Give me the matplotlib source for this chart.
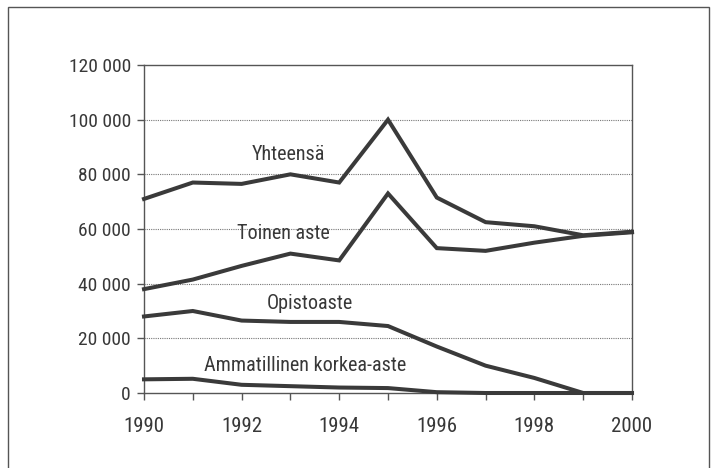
import matplotlib
matplotlib.use("Agg")
import matplotlib.pyplot as plt
from matplotlib.patches import Rectangle
from matplotlib.ticker import FuncFormatter

years = [1990, 1991, 1992, 1993, 1994, 1995, 1996, 1997, 1998, 1999, 2000]
yhteensa = [71000, 77000, 76500, 80000, 77000, 100000, 71500, 62500, 61000, 57700, 59000]
toinen_aste = [38000, 41500, 46500, 51000, 48500, 73000, 53000, 52000, 55000, 57500, 58800]
opistoaste = [28000, 30000, 26500, 26000, 26000, 24500, 17000, 10000, 5500, 0, 0]
ammatillinen = [5000, 5200, 3000, 2500, 2000, 1800, 300, 0, 0, 0, 0]

labels = ["Yhteensä", "Toinen aste", "Opistoaste", "Ammatillinen korkea-aste"]
label_pos = [(1992.95, 87400), (1992.85, 58500), (1993.4, 32600), (1993.3, 9900)]

yticks = [0, 20000, 40000, 60000, 80000, 100000, 120000]
xticks = [1990, 1992, 1994, 1996, 1998, 2000]

FONT = ["Roboto Condensed", "DejaVu Sans"]
plt.rcParams['font.family'] = FONT
TXT = "#383838"
LINE = "#3a3a3a"

fig = plt.figure(figsize=(7.16, 4.68), dpi=100)
fig.patch.set_facecolor("white")
ax = fig.add_axes([144/716, 1-393/468, (632-144)/716, (393-65)/468])

for series in [yhteensa, toinen_aste, opistoaste, ammatillinen]:
    ax.plot(years, series, color=LINE, lw=2.9, solid_joinstyle="miter", zorder=3, clip_on=False)

for txt, (x, y) in zip(labels, label_pos):
    ax.text(x, y, txt, ha="center", va="center", fontsize=14.5, color=TXT, zorder=4,
            family=FONT, fontweight="normal")

ax.set_xlim(1990, 2000)
ax.set_ylim(0, 120000)
ax.set_xticks(xticks)
ax.set_yticks(yticks)
ax.yaxis.set_major_formatter(FuncFormatter(lambda v, p: f"{int(v):,}".replace(",", " ")))
ax.set_xticks(years, minor=True)
ax.tick_params(axis="x", which="both", direction="out", length=5, width=1, color="#555555",
               labelsize=15, labelcolor=TXT, pad=12)
ax.tick_params(axis="y", direction="out", length=5, width=1, color="#555555",
               labelsize=14, labelcolor=TXT, pad=4.5)
for lab in ax.get_xticklabels() + ax.get_yticklabels():
    lab.set_family(FONT)
    lab.set_fontweight("normal")

for y in yticks[1:-1]:
    ax.axhline(y, color="#777777", lw=0.8, ls=(0, (1, 1)), zorder=1)

for s in ax.spines.values():
    s.set_color("#555555")
    s.set_linewidth(1.0)

fig.patches.append(Rectangle((8/716, -0.05), (709-8)/716, 1.05 - 7/468,
                             transform=fig.transFigure, fill=False,
                             edgecolor="#555555", lw=1.0, clip_on=False))

fig.savefig("out.png", dpi=100)
